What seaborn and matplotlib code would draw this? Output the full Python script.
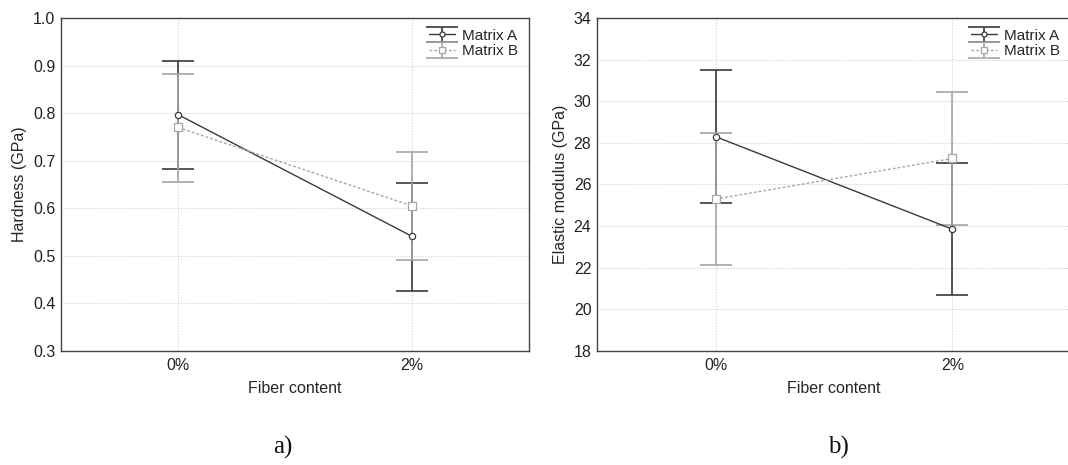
import numpy as np
import pandas as pd
import matplotlib
matplotlib.use("Agg")
import matplotlib.pyplot as plt
import seaborn as sns
from matplotlib.container import ErrorbarContainer

# ---- data ----
categories = ["0%", "2%"]
series = ["Matrix A", "Matrix B"]

hard_mean_A = [0.797, 0.541]
hard_low_A = [0.682, 0.427]
hard_high_A = [0.909, 0.653]
hard_mean_B = [0.770, 0.605]
hard_low_B = [0.656, 0.491]
hard_high_B = [0.882, 0.719]

mod_mean_A = [28.30, 23.85]
mod_low_A = [25.10, 20.70]
mod_high_A = [31.50, 27.02]
mod_mean_B = [25.30, 27.25]
mod_low_B = [22.15, 24.05]
mod_high_B = [28.48, 30.45]

hard_ticks = [0.3, 0.4, 0.5, 0.6, 0.7, 0.8, 0.9, 1.0]
mod_ticks = [18, 20, 22, 24, 26, 28, 30, 32, 34]

sns.set_theme(style="white")
plt.rcParams["font.family"] = ["Liberation Sans", "DejaVu Sans"]

colors = {"Matrix A": "#3a3a3a", "Matrix B": "#a6a6a6"}
markers = {"Matrix A": "o", "Matrix B": "s"}
dashes = {"Matrix A": "", "Matrix B": (2, 1.5)}

fig = plt.figure(figsize=(10.68, 4.65), dpi=100)
ax1 = fig.add_axes([0.0571, 0.2452, 0.4382, 0.7161])
ax2 = fig.add_axes([0.559, 0.2452, 0.4438, 0.7161])


def draw(ax, means, lows, highs, ylabel, ticks, fmt):
    rows = []
    for s, m in zip(series, means):
        for i, c in enumerate(categories):
            rows.append({"pos": i, "value": m[i], "series": s})
    df = pd.DataFrame(rows)
    sns.lineplot(data=df, x="pos", y="value", hue="series", style="series",
                 palette=colors, markers=markers, dashes=dashes, ax=ax,
                 legend=False, linewidth=1.0, zorder=3)
    lines = ax.get_lines()
    handles = []
    for k, s in enumerate(series):
        m = np.array(means[k]); lo = np.array(lows[k]); hi = np.array(highs[k])
        eb = ax.errorbar(np.arange(len(categories)), m, yerr=[m - lo, hi - m],
                         fmt="none", ecolor=colors[s], elinewidth=1.2,
                         capsize=11.5, capthick=1.2, zorder=2)
        ln = lines[k]
        ln.set_markerfacecolor("white")
        ln.set_markeredgecolor(colors[s])
        ln.set_markeredgewidth(0.9)
        ln.set_markersize(4.5 if s == "Matrix A" else 5.5)
        h = ErrorbarContainer((ln, eb[1], eb[2]), has_xerr=False,
                              has_yerr=True, label=s)
        handles.append(h)
    ax.set_xlim(-0.5, 1.5)
    ax.set_ylim(ticks[0], ticks[-1])
    ax.set_yticks(ticks)
    ax.set_yticklabels([fmt.format(t) for t in ticks])
    ax.set_xticks(range(len(categories)))
    ax.set_xticklabels(categories)
    ax.set_xlabel("Fiber content", fontsize=11.5, labelpad=6)
    ax.set_ylabel(ylabel, fontsize=11.5, labelpad=4)
    ax.tick_params(axis="both", labelsize=11.5, colors="#222222",
                   direction="in", length=2.5, width=1, pad=5)
    ax.tick_params(axis="y", length=0, pad=4)
    ax.grid(True, linestyle=(0, (1, 1.5)), color="#cfcfcf", linewidth=0.8)
    ax.set_axisbelow(True)
    for sp in ax.spines.values():
        sp.set_color("#444444")
        sp.set_linewidth(1.0)
    ax.legend(handles, series, loc="upper right", frameon=False,
              fontsize=11, handlelength=1.7, handletextpad=0.5,
              labelspacing=0.1, borderaxespad=0.3, markerscale=0.8)


draw(ax1, [hard_mean_A, hard_mean_B], [hard_low_A, hard_low_B],
     [hard_high_A, hard_high_B], "Hardness (GPa)", hard_ticks, "{:.1f}")
draw(ax2, [mod_mean_A, mod_mean_B], [mod_low_A, mod_low_B],
     [mod_high_A, mod_high_B], "Elastic modulus (GPa)", mod_ticks, "{:d}")

fig.text(283 / 1068, 1 - 447 / 465, "a)", family="Liberation Serif",
         fontsize=18, ha="center", va="center", color="#111111")
fig.text(838 / 1068, 1 - 447 / 465, "b)", family="Liberation Serif",
         fontsize=18, ha="center", va="center", color="#111111")

fig.savefig("out.png", dpi=100)
